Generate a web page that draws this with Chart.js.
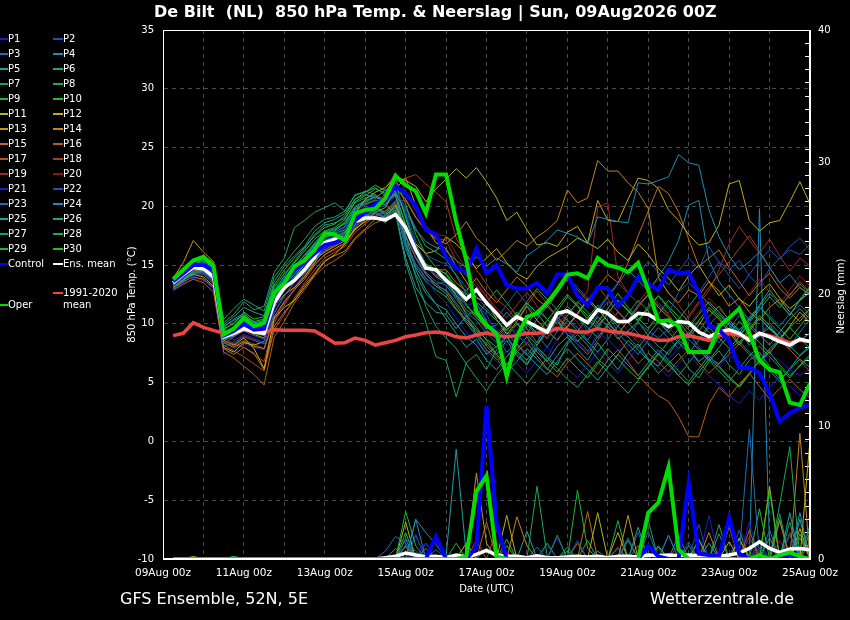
<!DOCTYPE html>
<html>
<head>
<meta charset="utf-8">
<title>De Bilt 850 hPa Temp. &amp; Neerslag</title>
<script src="https://cdn.jsdelivr.net/npm/chart.js@4.4.1/dist/chart.umd.min.js"></script>
<style>
  html, body { margin: 0; padding: 0; background: #000; }
  #wrap { position: relative; width: 850px; height: 620px; overflow: hidden; font-family: 'DejaVu Sans', sans-serif; color: #fff; }
  #myChart { position: absolute; left: 0; top: 0; }
  .title { position: absolute; left: 154px; top: 2px; font-weight: bold; font-size: 16px; line-height: 19px; white-space: nowrap; }
  .foot { position: absolute; top: 589px; font-size: 16px; line-height: 19px; white-space: nowrap; }
  .ytitle2 { position: absolute; left: 801px; top: 290px; width: 80px; height: 12px; line-height: 12px; text-align: center; font-size: 10px; color: #fff; white-space: nowrap; transform: rotate(-90deg); }
  .lg { position: absolute; font-size: 10px; line-height: 12px; white-space: nowrap; }
  .lg i { display: inline-block; width: 10px; height: 2px; vertical-align: middle; }
</style>
</head>
<body>
<div id="wrap">
  <canvas id="myChart" width="850" height="620"></canvas>
  <div class="title">De Bilt&nbsp; (NL)&nbsp; 850 hPa Temp. &amp; Neerslag | Sun, 09Aug2026 00Z</div>
  <div class="ytitle2">Neerslag (mm)</div>
  <div class="foot" style="left:120px">GFS Ensemble, 52N, 5E</div>
  <div class="foot" style="left:650px">Wetterzentrale.de</div>
  <div id="legend"></div>
</div>
<script>
// forecast hours (6-hourly steps from the 09Aug 00z run)
const hours = [6,12,18,24,30,36,42,48, 54,60,66,72,78,84,90,96, 102,108,114,120,126,132,138,144, 150,156,162,168,174,180,186,192,
  198,204,210,216,222,228,234,240, 246,252,258,264,270,276,282,288, 294,300,306,312,318,324,330,336, 342,348,354,360,366,372,378,384];
const dateTicks = ['09Aug 00z','11Aug 00z','13Aug 00z','15Aug 00z','17Aug 00z','19Aug 00z','21Aug 00z','23Aug 00z','25Aug 00z'];

// main lines, 850 hPa temperature (°C)
const ctrlT = [13.6,14.3,15.0,15.0,14.6,9.0,9.4,10.0, 9.5,9.6,12.5,13.6,14.6,15.2,16.0,16.7, 16.9,17.3,18.8,19.5,20.2,20.5,21.7,21.1,
  20.0,18.0,17.6,15.7,14.75,14.4,16.4,14.3, 15.0,13.3,13.0,13.0,13.5,12.6,14.2,14.2, 12.4,11.6,13.1,13.0,11.5,12.4,14.0,13.4,
  12.9,14.6,14.3,14.4,12.6,9.9,9.5,8.6, 6.25,6.25,5.8,4.1,1.7,2.4,2.85,3.1];
const operT = [13.8,14.6,15.4,15.7,14.9,9.1,9.6,10.5, 9.8,10.1,12.6,13.5,14.9,15.4,16.3,17.7, 17.6,17.1,19.4,19.7,19.8,20.7,22.6,21.8,
  21.3,19.4,22.7,22.7,18.7,15.4,11.0,9.9, 9.2,5.5,8.9,10.6,10.9,11.8,12.9,14.2, 14.3,13.9,15.6,15.0,14.8,14.4,15.2,12.9,
  10.2,10.3,9.8,7.6,7.6,7.6,9.8,10.5, 11.3,9.2,6.9,6.1,5.9,3.3,3.1,4.95];
const meanT = [13.5,14.2,14.8,14.7,14.0,8.9,9.2,9.6, 9.3,9.2,11.8,13.1,13.7,14.6,15.7,16.9, 17.2,17.3,18.7,19.0,19.0,18.85,19.3,18.2,
  16.3,14.75,14.6,13.7,13.0,12.1,12.9,11.8, 10.9,9.9,10.6,10.2,9.75,9.3,10.9,11.1, 10.6,10.1,11.2,10.9,10.2,10.2,10.9,10.8,
  10.3,9.75,10.2,10.1,9.3,8.9,9.3,9.5, 9.2,8.6,9.2,8.9,8.5,8.2,8.7,8.5];
const climT = [9.0,9.2,10.1,9.7,9.45,9.2,9.25,9.5, 9.3,9.3,9.5,9.45,9.45,9.45,9.4,8.9, 8.35,8.4,8.8,8.6,8.2,8.4,8.6,8.9,
  9.05,9.25,9.3,9.2,8.9,8.8,9.05,9.25, 9.0,8.9,9.0,9.2,9.2,9.3,9.6,9.5, 9.3,9.3,9.6,9.4,9.3,9.2,9.0,8.8,
  8.6,8.6,8.9,9.0,8.8,8.6,9.0,9.2, 9.0,8.8,9.2,9.0,8.7,8.4,8.6,8.5];

// main lines, precipitation (mm)
const ctrlR = [0,0,0,0,0,0,0,0, 0,0,0,0,0,0,0,0, 0,0,0,0,0,0,0,0, 0,0,1.7,0,0,0,0.9,11.6,
  2.7,0,0,0,0,0,0,0, 0,0,0,0,0,0,0,1.0, 0.2,0,0,5.7,0.4,0.3,0.2,3.1, 0.4,0,0,0,0,0.3,0,0];
const operR = [0,0,0,0,0,0,0,0, 0,0,0,0,0,0,0,0, 0,0,0,0,0,0,0,0, 0,0,0,0,0,0.2,5.1,6.3,
  0.2,0,0,0,0,0,0,0, 0,0,0,0,0,0,0,3.5, 4.25,6.95,0.7,0,0,0,0,0, 0,0,0.3,0,0.3,0.5,0.2,0];
const meanR = [0,0,0,0,0,0,0,0, 0,0,0,0,0,0,0,0, 0,0,0,0,0,0.1,0.2,0.45, 0.3,0.15,0.2,0.1,0.3,0.15,0.35,0.65,
  0.3,0.2,0.2,0.1,0.25,0.1,0.1,0.15, 0.2,0.15,0.2,0.1,0.2,0.2,0.15,0.3, 0.25,0.3,0.25,0.3,0.25,0.3,0.2,0.3, 0.45,0.8,1.3,0.8,0.5,0.75,0.8,0.7];

// perturbed members, temperature
const tP1 = [13.2,13.9,14.6,14.9,14.2,9.4,8.6,9.1, 8.8,8.4,11.2,12.9,13.9,14.8,15.6,16.4, 16.9,17.6,18.9,19.8,20.3,20.9,21.4,19.8, 16.6,14.8,14.2,14.0,12.8,11.5,11.9,10.4, 9.6,8.2,9.1,8.4,7.9,7.1,8.8,9.4, 8.3,7.6,9.2,8.7,7.8,8.1,9.0,8.4, 7.7,7.0,7.9,8.6,8.1,7.2,6.4,7.3, 6.8,5.9,6.7,7.4,6.9,6.1,5.6,6.2];
const tP2 = [13.0,13.5,14.1,14.4,13.6,8.3,8.9,9.4, 9.0,8.7,11.5,13.2,14.4,15.1,16.2,17.0, 17.5,17.9,19.4,19.2,19.6,18.8,19.9,16.5, 15.0,13.8,13.4,13.6,12.2,12.9,11.6,10.8, 9.2,10.1,9.0,8.3,9.6,8.8,10.4,11.2, 10.6,9.4,10.8,11.9,11.1,10.2,11.6,12.4, 11.8,10.9,12.7,13.5,12.6,14.0,15.3,14.6, 15.4,14.1,13.2,14.7,15.6,16.3,15.9,16.8];
const tP3 = [13.4,14.0,14.5,14.3,13.5,8.1,8.4,8.9, 8.6,8.3,10.9,12.4,13.6,14.3,15.4,16.3, 16.8,17.2,18.4,18.9,19.4,19.1,19.8,17.0, 15.1,13.9,13.2,12.9,11.8,10.6,11.4,9.8, 8.9,7.6,8.4,9.9,9.1,8.0,9.4,10.3, 9.7,8.6,9.9,10.8,9.3,8.9,10.1,9.4, 8.8,9.6,10.4,9.5,8.7,9.9,10.8,10.1, 9.2,10.6,11.4,10.7,9.8,10.9,11.6,10.8];
const tP4 = [13.6,14.3,15.1,15.3,14.6,9.7,10.4,10.9, 10.1,10.3,12.9,14.0,14.7,15.6,16.8,17.6, 17.8,18.3,19.7,20.3,20.8,20.4,21.1,19.6, 18.0,17.0,16.5,16.2,15.4,14.8,15.7,14.9, 15.6,15.1,14.4,15.8,16.4,17.1,18.0,17.7, 17.4,16.8,19.1,18.9,18.7,18.6,22.0,21.9, 22.2,22.5,24.4,23.7,23.5,19.7,17.4,15.8, 14.6,15.3,16.1,14.8,13.5,14.2,13.1,12.4];
const tP5 = [13.1,13.8,14.4,14.6,13.9,8.7,9.0,9.8, 9.4,9.3,12.1,13.4,14.2,15.3,16.4,17.4, 17.6,17.3,18.6,19.3,19.1,18.6,19.6,15.6, 13.1,11.8,11.0,10.8,9.6,10.7,9.1,8.3, 7.4,8.6,7.3,6.5,7.9,6.8,8.1,8.9, 7.8,6.9,8.4,7.2,6.1,7.5,8.3,7.0, 6.4,7.7,8.6,7.9,6.8,7.5,8.9,10.1, 9.4,8.2,9.0,9.7,8.8,7.9,8.6,9.2];
const tP6 = [13.3,14.1,15.0,15.5,14.8,9.9,10.6,11.4, 11.0,10.7,13.6,14.9,15.8,16.6,17.9,18.6, 18.9,19.4,20.6,21.0,20.7,21.4,20.9,17.5, 14.6,12.9,11.7,10.4,9.2,8.0,8.7,7.4, 8.1,9.0,7.7,6.9,8.2,9.6,10.4,9.1, 8.5,9.3,10.6,9.8,8.7,9.4,10.2,9.0, 8.1,7.4,8.6,9.3,8.0,7.1,6.6,7.8, 8.5,7.6,6.8,7.9,8.7,8.1,7.3,8.0];
const tP7 = [13.7,14.5,15.4,15.8,15.0,10.1,10.8,11.9, 11.2,11.5,14.4,15.6,18.2,18.8,19.5,19.9, 20.3,19.6,20.9,21.3,21.0,20.1,19.4,15.2, 12.6,10.1,7.2,6.9,3.8,6.7,7.4,6.1, 7.8,8.9,7.5,6.6,8.0,7.2,6.5,8.3, 9.1,8.2,7.0,6.3,7.4,8.6,7.8,6.9, 5.8,6.6,7.5,6.2,5.4,6.8,7.7,6.5, 5.7,6.9,7.6,6.4,5.3,6.1,7.0,6.3];
const tP8 = [13.5,14.0,14.9,15.2,14.4,9.2,9.5,10.2, 9.8,9.6,12.2,13.7,14.8,15.9,16.7,17.5, 17.9,18.6,19.8,20.2,20.5,20.1,21.2,19.9, 18.1,16.6,16.1,15.5,14.1,12.6,11.8,10.2, 8.9,9.7,10.8,9.9,11.2,10.4,9.3,10.7, 11.9,11.0,10.1,11.3,12.6,11.4,10.5,9.6, 10.8,12.0,11.1,10.2,9.4,10.6,11.5,10.3, 9.5,10.4,11.6,12.9,11.8,10.7,12.1,13.2];
const tP9 = [13.2,13.7,14.3,14.5,13.7,8.8,9.1,9.7, 9.3,9.5,11.9,13.0,13.9,15.1,16.2,17.1, 17.4,17.8,19.0,19.4,19.8,19.3,19.9,18.0, 16.0,15.1,14.6,14.3,13.2,12.5,11.9,11.1, 10.3,9.4,10.6,11.8,10.9,9.8,11.1,12.3, 11.5,10.4,9.6,10.9,12.0,11.2,10.3,11.5, 12.4,11.3,10.2,9.1,10.3,11.4,10.6,9.5, 8.4,9.6,10.7,9.9,8.8,9.7,10.5,11.3];
const tP10 = [13.8,14.6,15.3,15.4,14.7,9.5,10.1,10.8, 10.2,10.4,13.1,14.3,15.2,16.2,17.2,17.9, 18.2,18.9,20.4,20.9,21.5,21.1,22.0,19.0, 16.4,15.0,14.2,13.9,12.4,10.8,9.7,8.6, 7.4,6.5,7.8,8.9,7.6,6.8,5.9,7.1, 6.2,5.4,6.6,7.9,7.0,6.1,5.3,6.4, 7.5,6.7,5.6,4.8,5.9,7.0,6.3,5.4, 4.6,5.7,6.8,7.6,6.5,5.6,6.4,7.2];
const tP11 = [13.3,13.9,14.2,14.0,13.2,8.0,7.6,8.4, 8.2,8.5,11.4,12.5,13.1,14.0,15.2,16.6, 16.9,17.6,19.4,20.6,21.2,21.6,22.5,22.2, 21.7,20.4,21.5,22.3,23.2,22.4,23.3,22.1, 20.7,18.8,19.5,18.0,16.7,16.9,16.6,17.8, 18.3,16.9,16.4,17.2,16.1,15.4,16.8,15.9, 14.7,13.9,12.8,14.1,15.0,13.6,12.4,13.3, 12.1,11.5,12.6,13.4,12.2,11.3,12.0,12.7];
const tP12 = [13.6,14.3,15.1,15.0,14.1,8.6,8.2,8.8, 7.9,6.2,10.5,11.4,12.0,13.1,14.2,15.3, 15.9,16.8,18.1,18.7,19.4,19.0,20.1,18.0, 16.8,16.0,16.2,17.4,16.8,15.9,14.7,15.6, 16.4,15.2,14.3,13.8,14.9,15.6,16.1,16.6, 17.3,16.9,20.5,18.8,18.7,20.6,22.4,22.2, 21.5,19.7,18.8,17.6,16.7,16.9,18.4,21.9, 22.2,18.8,17.9,18.6,18.8,20.4,22.1,20.2];
const tP13 = [13.9,15.2,17.1,16.1,15.3,9.3,8.9,9.6, 9.1,8.8,11.6,12.8,13.9,14.6,15.5,16.1, 16.6,17.1,18.0,18.9,19.5,19.9,21.5,22.4, 20.1,18.2,16.9,16.4,14.9,13.6,12.2,11.9, 10.4,9.1,10.2,11.5,10.3,9.4,8.6,9.8, 10.9,12.1,11.3,10.2,9.1,10.3,11.6,12.5, 11.4,10.6,9.7,8.8,9.9,11.2,10.4,9.3, 8.2,9.4,10.5,9.6,8.7,9.8,11.0,10.1];
const tP14 = [13.4,14.0,14.7,14.5,13.8,8.4,8.0,8.5, 8.1,7.9,10.6,11.9,12.9,13.8,15.0,15.9, 16.4,16.9,18.2,19.1,19.8,20.4,21.6,20.6, 19.1,18.0,17.2,16.8,17.6,18.7,17.3,16.5, 15.4,16.2,17.1,16.6,17.4,18.0,18.8,21.4, 20.3,20.7,23.9,23.0,23.0,22.0,21.2,19.8, 14.0,12.6,11.8,12.9,12.4,13.6,12.8,11.5, 12.2,11.0,10.3,11.4,12.1,11.0,10.2,11.3];
const tP15 = [13.0,13.6,14.0,13.8,13.1,7.9,7.4,8.0, 7.5,6.1,9.8,11.0,12.0,13.3,14.3,15.4, 15.8,16.2,17.3,18.1,18.9,19.2,20.1,17.9, 16.2,15.1,14.6,14.6,13.5,12.8,13.9,12.7, 11.8,12.9,14.0,13.2,12.1,11.4,12.6,13.8, 12.9,12.0,13.1,14.2,13.5,15.2,17.5,19.6, 21.7,21.1,19.5,17.2,14.9,15.6,16.3,14.8, 13.6,12.4,13.5,14.3,13.0,12.2,13.1,12.5];
const tP16 = [12.9,13.4,13.8,13.5,12.7,7.6,7.1,6.4, 5.7,4.8,8.9,10.2,11.8,12.9,14.1,14.9, 15.4,16.0,17.2,18.0,18.6,18.9,19.8,17.4, 15.6,14.2,13.4,12.8,11.6,10.2,9.4,8.1, 7.2,6.3,7.6,8.4,7.3,6.2,5.5,6.7, 7.5,6.6,5.7,6.9,7.8,6.8,5.6,4.7, 3.9,3.4,2.1,0.4,0.4,3.2,4.6,3.8, 4.9,5.8,4.7,3.6,4.5,5.3,4.4,3.7];
const tP17 = [13.1,13.7,14.5,14.6,13.9,8.2,7.7,7.2, 6.6,6.0,9.5,10.8,12.2,13.5,14.6,15.6, 16.1,16.6,17.8,18.5,19.2,19.6,20.3,18.1, 16.2,14.9,14.1,13.7,12.5,11.2,10.6,9.5, 8.7,9.5,10.8,9.6,8.4,9.3,10.2,9.1, 8.3,7.4,8.6,9.8,8.9,7.7,6.6,7.5, 6.8,5.9,6.9,7.8,6.7,5.8,6.6,7.4, 8.3,7.4,6.5,7.7,8.6,7.8,6.9,5.9];
const tP18 = [13.5,14.1,14.8,15.0,14.1,8.8,8.3,8.0, 7.4,6.8,10.1,11.6,13.0,14.2,15.3,16.2, 16.7,17.3,18.6,19.5,20.1,21.1,22.0,22.4, 22.7,21.9,21.2,20.4,17.3,15.8,14.6,13.4, 12.1,11.4,10.3,11.6,12.8,11.7,10.6,9.7, 10.9,12.0,13.2,12.1,11.0,10.2,11.4,12.5, 11.6,10.8,9.6,10.7,11.9,13.1,14.2,15.3, 16.4,17.5,16.2,14.8,13.5,12.4,13.6,12.7];
const tP19 = [13.2,13.8,14.3,14.2,13.4,8.5,8.1,8.6, 8.3,7.9,10.3,11.8,12.9,14.0,15.1,15.9, 16.3,16.8,18.0,18.7,19.1,19.6,20.5,20.5, 19.0,17.9,17.3,17.1,15.4,14.1,13.2,12.4, 11.3,10.5,11.6,12.7,11.5,10.4,9.6,10.8, 11.7,12.8,19.9,20.3,14.0,12.6,11.8,12.9, 13.8,12.7,11.6,10.5,11.7,12.8,14.6,16.8, 18.3,17.1,16.0,17.2,15.8,14.5,15.6,14.9];
const tP20 = [13.4,14.0,14.6,14.8,14.0,8.9,8.6,9.0, 8.7,8.4,11.0,12.3,13.5,14.7,15.8,16.7, 17.1,17.9,19.2,20.0,20.6,21.5,22.9,21.2, 19.6,18.3,17.6,17.5,16.0,14.7,13.5,12.3, 11.0,10.2,9.3,10.5,9.6,8.7,9.9,11.0, 10.1,9.0,10.2,11.4,10.5,9.4,8.4,9.5, 10.6,9.7,8.8,9.9,11.0,12.2,11.3,10.4, 11.5,12.6,13.8,12.7,11.6,12.9,14.1,13.2];
const tP21 = [12.8,13.3,13.9,13.7,13.0,7.4,7.9,8.3, 8.0,7.8,10.4,12.0,13.2,14.3,15.5,16.5, 16.8,17.4,18.7,19.1,19.5,19.2,20.2,18.0, 15.6,13.8,12.6,11.8,10.5,9.3,8.4,7.6, 6.8,7.7,6.6,5.8,6.9,8.0,7.1,6.2, 5.4,6.5,7.6,6.7,5.8,6.9,8.0,7.1, 6.3,5.5,6.6,7.5,6.4,5.6,4.8,3.9, 3.2,4.3,3.5,4.6,5.5,4.7,3.9,4.8];
const tP22 = [13.0,13.6,14.2,14.4,13.7,8.6,9.2,9.8, 9.4,9.1,11.8,13.3,14.5,15.4,16.5,17.3, 17.6,18.2,19.6,20.1,20.6,20.0,20.9,19.4, 17.1,15.9,15.4,15.1,14.2,13.1,12.4,11.3, 10.5,11.6,12.8,11.7,10.6,11.8,12.9,14.0, 13.1,12.2,11.3,12.4,13.5,12.6,14.2,15.3, 14.4,13.3,14.5,15.6,14.7,16.6,15.2,14.1, 13.0,14.2,15.4,16.3,15.5,16.6,17.3,16.3];
const tP23 = [13.3,13.9,14.6,14.7,14.0,8.9,9.3,9.9, 9.5,9.4,12.0,13.1,14.0,15.2,16.3,17.2, 17.3,17.7,19.1,19.6,20.0,19.5,20.4,17.5, 15.7,14.4,13.6,13.3,12.1,11.0,10.3,9.2, 8.4,9.3,8.2,7.3,8.5,9.7,10.6,9.5, 8.6,7.7,8.9,10.0,9.2,8.3,7.4,8.6, 9.7,8.8,7.9,9.0,10.2,9.3,8.4,9.6, 10.7,9.8,8.9,10.1,9.2,8.1,9.3,10.4];
const tP24 = [13.7,14.4,15.2,15.6,14.9,9.8,10.3,10.7, 10.0,9.9,12.6,13.9,14.9,15.8,16.9,17.8, 18.1,18.5,19.9,20.4,20.9,20.6,21.3,19.2, 16.8,15.1,14.4,14.0,12.7,11.5,10.8,9.6, 9.9,11.0,10.1,9.2,10.4,11.5,10.6,9.7, 10.8,12.0,11.1,12.3,13.4,14.6,13.7,12.8, 14.0,15.3,17.1,20.1,20.5,15.4,13.6,12.5, 11.4,10.3,11.5,12.6,11.7,10.8,12.0,13.1];
const tP25 = [13.5,14.2,14.9,15.1,14.4,9.3,9.7,10.3, 9.9,9.7,12.3,13.6,14.6,15.6,16.6,17.4, 17.7,18.0,19.3,19.7,19.9,19.4,20.2,16.4, 14.2,12.6,11.7,11.2,10.0,8.9,8.2,6.9, 6.1,7.2,8.3,7.4,6.5,5.7,6.8,7.9, 7.0,6.1,5.2,6.3,7.4,6.5,5.6,6.7, 7.8,6.9,6.0,5.1,6.2,7.3,6.4,5.5, 4.7,5.8,6.9,6.0,5.1,6.2,7.3,8.2];
const tP26 = [13.1,13.7,14.4,14.6,13.8,8.7,9.4,10.6, 10.2,9.8,12.7,14.1,15.3,16.4,17.6,18.4, 18.6,19.0,20.3,20.7,21.0,20.3,21.0,18.3, 16.1,14.3,13.2,12.6,11.3,10.1,9.0,7.8, 7.0,5.9,6.8,7.9,7.0,6.1,7.3,8.5, 9.4,8.5,7.6,8.7,9.8,8.9,8.0,9.1, 10.2,9.3,8.4,7.5,8.6,9.7,8.8,7.9, 8.9,10.0,9.1,8.2,9.3,10.4,11.3,10.4];
const tP27 = [13.6,14.4,15.3,15.7,15.1,10.4,11.3,12.1, 11.6,11.1,14.0,15.1,16.2,17.2,18.3,18.9, 19.1,19.6,21.0,21.2,21.6,20.9,21.3,16.9, 14.0,11.5,9.8,8.8,7.9,6.6,5.4,4.3, 5.6,6.7,5.8,4.9,6.0,7.1,6.2,5.3, 4.6,5.7,6.8,5.9,5.0,4.1,5.2,6.3, 7.4,6.5,5.6,6.7,7.8,6.9,6.0,5.1, 6.2,7.3,8.1,7.2,6.3,5.4,6.5,7.4];
const tP28 = [13.4,14.1,14.8,15.0,14.3,9.1,9.6,10.0, 9.6,9.3,12.0,13.4,14.5,15.6,16.8,17.7, 18.0,18.7,20.0,20.5,20.8,20.3,21.0,18.5, 16.3,14.9,14.0,13.5,12.4,11.6,10.7,11.8, 12.9,11.8,10.7,11.9,13.0,12.1,11.2,10.3, 9.4,10.5,11.6,10.7,9.8,10.9,12.0,11.1, 10.2,9.3,10.4,11.5,12.6,11.7,10.8,9.9, 9.0,10.1,11.2,12.3,11.4,12.5,13.4,12.6];
const tP29 = [13.2,13.8,14.5,14.7,14.0,8.6,8.9,9.5, 9.2,9.0,11.6,12.9,14.0,15.0,16.1,17.0, 17.2,17.6,18.8,19.2,19.6,19.0,19.7,16.8, 14.8,13.6,12.9,12.3,11.2,10.4,9.5,8.7, 8.0,8.9,10.0,9.1,8.2,9.3,10.4,11.5, 10.6,9.7,8.8,9.9,11.0,10.1,9.2,8.3, 7.4,8.5,9.6,8.7,7.8,6.9,8.0,9.1, 10.2,9.3,8.4,7.5,8.6,9.7,8.8,7.9];
const tP30 = [13.9,14.7,15.5,15.8,15.2,9.6,10.0,11.0, 10.4,10.6,13.3,14.6,15.6,16.5,17.5,18.2, 18.5,19.2,20.6,21.2,21.8,21.3,22.3,20.2, 17.6,15.9,14.8,14.2,12.9,11.7,10.5,9.8, 9.0,9.9,11.0,10.1,9.2,10.3,11.4,12.5, 11.6,10.7,9.8,10.9,12.0,11.1,10.2,11.3, 12.4,11.5,10.6,9.7,10.8,11.9,11.0,10.1, 9.2,10.3,11.4,10.5,9.6,8.7,9.8,10.9];

// perturbed members, precipitation
const rP1 = [0,0,0,0,0,0,0,0, 0,0,0,0,0,0,0,0, 0,0,0,0,0,0,0,0, 0.5,1.2,0,0,0,0,0,0, 0,0,0,0,0,1.0,0,0, 0,0,0,0,0,0,0,0, 0,0,0,0,0,0,0,0, 2.2,1.1,0,0,0.6,0,0,0];
const rP2 = [0,0,0,0,0,0,0,0, 0,0,0,0,0,0,0,0, 0,0,0,0,0,0,0,1.6, 0.6,0,0,0,0,0,0,0, 0,0,0,0,0,0,0,0, 1.4,0,0,0,0,0,0,0, 0,0,0,1.3,0,0,0,0, 0,0,0.8,0,0,1.8,0,0];
const rP3 = [0,0,0,0,0,0,0,0, 0,0,0,0,0,0,0,0, 0,0,0,0,0,0.6,1.7,1.2, 0,0,0,0,0,0,0,0, 0,0,0,0,0,0,0,0, 0,0,0,0,0,1.6,0,2.1, 0,0,0,0,0,0,0,2.6, 0.3,9.8,0.3,0,0,0,0,0];
const rP4 = [0,0,0,0,0,0,0,0, 0,0,0,0,0,0,0,0, 0,0,0,0,0,0,0,0, 3.0,2.0,1.1,0,0,0,0,0, 0,0,0,0,0,0,0,0, 0,0,0,0,0.8,0,0,0, 0,0,1.8,0,0,0,0,0, 0,0,0,0,0,0,3.5,0];
const rP5 = [0,0,0,0,0,0,0,0, 0,0,0,0,0,0,0,0, 0,0,0,0,0,0,0,0, 0,0,0,0.2,8.3,0.3,0,0, 0,0,0,0,0,0,0,0, 0,0,0.6,0,0,0,0,0, 0,0,0,0,0,1.2,0,0, 0,0,0,0,0,3.5,0,0];
const rP6 = [0,0,0,0,0,0,0,0, 0,0,0,0,0,0,0,0, 0,0,0,0,0,0,0,1.0, 0,0,0,0,0,0,0,0.8, 0,0,0,0,0,0,0,0, 0,0,0,0,0,0,2.4,0, 0,0,0,0,0,0,0,0, 0,0,0,1.6,0,0,0,2.6];
const rP7 = [0,0,0,0,0,0,0.2,0, 0,0,0,0,0,0,0,0, 0,0,0,0,0,0,0,0, 0,0,0,0,0,0,0,0, 0,0,0,0,0,0,1.8,0, 0,0,0,0,0,1.4,0,0, 0,0,0,0,0,0,1.9,0, 0,0,0,0,0,2.8,0,0];
const rP8 = [0,0,0,0,0,0,0,0, 0,0,0,0,0,0,0,0, 0,0,0,0,0,0,0,0, 0,0,0,0,0,0,0,0, 0,0,0,0,5.5,0.2,0,0, 0,0,0,0,0,0,0,0, 1.0,0,0,0,0,0,0,0, 0,0,0,0,4.1,8.5,0,0];
const rP9 = [0,0,0,0,0,0,0,0, 0,0,0,0,0,0,0,0, 0,0,0,0,0,0,0,3.6, 1.0,0,0,0,0,0,0,0, 0,0,0,0,0,0,0,0, 5.2,0.8,0,0,0,0,0,0, 0,0,0,0,0,0,0,0, 0,0,3.8,0,0,0,0,0];
const rP10 = [0,0,0,0,0,0,0,0, 0,0,0,0,0,0,0,0, 0,0,0,0,0,0,0,0, 0,0,0,0,0,0,0,0, 0,1.0,0,0,0,0,0,0.6, 0,0,0,0,0,0,0,0, 0,0,0,0,1.5,0,0,0, 0,0,0,5.2,0,0,0,0];
const rP11 = [0,0,0,0,0,0,0,0, 0,0,0,0,0,0,0,0, 0,0,0,0,0,0,0,2.8, 0,0,0,0,0,0,0,0, 0,3.3,0,0,0,0,0,0, 0,0,3.5,0,0,0,0,0, 0,0,0,0,0,0,0,0, 0,0,0,5.5,0,0,0,9.0];
const rP12 = [0,0,0,0,0,0,0,0, 0,0,0,0,0,0,0,0, 0,0,0,0,0,0,0,0, 0,0,0,0,0,1.2,0,0, 0,0,0,0,0,0,0,0, 0,0,0,0,2.0,0,0,0, 0,0,0,0,0,0,0,1.3, 0,0,0,0,0,0,2.3,0];
const rP13 = [0,0,0.2,0,0,0,0,0, 0,0,0,0,0,0,0,0, 0,0,0,0,0,0,0,0, 0,0,0,0,0,0,6.5,1.2, 0,0,0,0,0,0,0,0, 0,0,0,0,0,3.3,0,0, 0,0,0,0,0,0,0,0, 1.6,0,0,0,0,0,0,0];
const rP14 = [0,0,0,0,0,0,0,0, 0,0,0,0,0,0,0,0, 0,0,0,0,0,0,0,0, 0,0,0,0,0,0,0,0, 0,0,3.2,1.0,0,0,0,0, 0,0,0,0,0,0,0,0, 0,0,0,0,0,2.0,0,0, 0,0,0,0,0,0,9.5,0];
const rP15 = [0,0,0,0,0,0,0,0, 0,0,0,0,0,0,0,0, 0,0,0,0,0,0,0,0, 0,0.8,0,0,0,0,0,0, 0,0,0,0,0,0,0,0, 0,3.6,0,0,0,0,0,0, 0,0,0,0,1.4,0,0,0, 0,0,0,0,2.9,0,0,0];
const rP16 = [0,0,0,0,0,0,0,0, 0,0,0,0,0,0,0,0, 0,0,0,0,0,0,0,0, 0,0,0,0,0,0,0,2.8, 0,0,0,0,0,0,0,0, 1.2,0,0,0,0,0,0,0, 0,0,0,0,0,0,0,0, 0,2.2,0,0,0,0,1.6,0];
const rP17 = [0,0,0,0,0,0,0,0, 0,0,0,0,0,0,0,0, 0,0,0,0,0,0,0,0, 0,0,0,0,0,0,1.4,0, 0,0,0,0,0,0,0,0, 0,0,0,0,0,0,1.0,0, 0,0,0,0,0,0,0,2.4, 0,0,0,0,0,0,0,1.2];
const rP18 = [0,0,0,0,0,0,0,0, 0,0,0,0,0,0,0,0, 0,0,0,0,0,0,0,0, 0,0,0,0,0,0,0,0, 2.2,0,0,0,0,0,0,0, 0,0,0,0,0,0,0,0, 0,0,1.1,0,0,0,0,0, 0,0,0,0,0,2.0,0,0];
const rP19 = [0,0,0,0,0,0,0,0, 0,0,0,0,0,0,0,0, 0,0,0,0,0,0,0,0, 0,0,0,0,0,0,0,0, 0,0,0,0,0,0,0,0, 0,0,0,0,0.9,0,0,0, 0,0,0,0,0,0,0,0, 0,1.7,0,0,0,0,0,0];
const rP20 = [0,0,0,0,0,0,0,0, 0,0,0,0,0,0,0,0, 0,0,0,0,0,0,0,0.9, 0,0,0,0,0,0,0,0, 0,0,0,0,0,0,0,0, 0,0,0,0,0,0,0,0, 0.7,0,0,0,0,0,0,0, 0,0,0,0,1.4,0,0,0];
const rP21 = [0,0,0,0,0,0,0,0, 0,0,0,0,0,0,0,0, 0,0,0,0,0,0,0,0, 1.9,0,0,0,0,0,0,0, 0,0,0,0,0,0,1.6,0, 0,0,0,0,0,0,0,0, 0,0,0,0,0,3.3,0,0, 0,2.8,0,0,0,0,0,0];
const rP22 = [0,0,0,0,0,0,0,0, 0,0,0,0,0,0,0,0, 0,0,0,0,0,0,0,0, 0,1.2,0,0,0,0,0,0, 0,0,0,0,0,0,0,0, 0,0,0,0,0,0,2.0,0, 0,0,0,0,2.6,0,0,0, 0,0,1.2,0,0,0,0,0];
const rP23 = [0,0,0,0,0,0,0,0, 0,0,0,0,0,0,0,0, 0,0,0,0,0,0,0,0, 0,0,0.7,0,0,0,0,0, 0,0,0,0,0.9,0,0,0, 0,0,0,0,0,0,0,0, 0,1.8,0,0,0,0,0,0, 0,0,0,2.2,0,0,0,0];
const rP24 = [0,0,0,0,0,0,0,0, 0,0,0,0,0,0,0,0, 0,0,0,0,0,0,0,0, 3.0,0,0,0,0,0,0,0, 0,0,0,0,0,0,0,0, 0,0,0,0,0,0,0,0, 0,1.8,0,0,0,0,0,0, 0,0.3,26.5,1.0,0,0,0,0];
const rP25 = [0,0,0,0,0,0,0,0, 0,0,0,0,0,0,0,0, 0,0,0,0,0,0,0,1.5, 0,0,0,0,0,0,0,0, 0,0,0,2.1,0,0,0,0, 0,0,0,0,0,0,0,0, 0,0,0,1.0,0,0,0,0, 0,0,0,0,0,0,3.0,0];
const rP26 = [0,0,0,0,0,0,0,0, 0,0,0,0,0,0,0,0, 0,0,0,0,0,0,0.8,0, 1.8,0,0,0,0,0,0,0, 0,0,0,0,0,0,0,0.9, 0,0,0,0,0,0,0,0, 0,0,0,0,0,0,0,0, 1.5,0,0,0,0,0,0,2.0];
const rP27 = [0,0,0,0,0,0,0.2,0, 0,0,0,0,0,0,0,0, 0,0,0,0,0,0,0,0, 0,0,0,0,0,0,0,0, 0,1.5,0,0,0,0,0,0, 0,0,0,0,0,0,0,2.9, 0,0,0,0,0,0,0,0, 0,0,0,0,3.0,0,0,0];
const rP28 = [0,0,0,0,0,0,0,0, 0,0,0,0,0,0,0,0, 0,0,0,0,0,0,0,1.0, 0,0,0,0,0,0,0,0, 0,0,0,0,0,0,0,0, 0,1.4,0,0,0,0,0,0, 0,0,0,0,0,0,2.6,0, 0,0,0,0,3.4,0,0,0];
const rP29 = [0,0,0,0,0,0,0,0, 0,0,0,0,0,0,0,0, 0,0,0,0,0,0,0,0, 0,0,0,0,1.2,0,0,0, 0,0,0,0,0,0,0,0, 0,0,0,0,2.9,0,0,0, 0,0,0,0,0,0,0,0, 2.2,0,0,0,0,0,0,0];
const rP30 = [0,0,0,0,0,0,0,0, 0,0,0,0,0,0,0,0, 0,0,0,0,0,0,0,2.0, 0,0,0,0,0,0,0,0, 0,0,0,0,0,1.2,0,0, 0,0,0,0,0,0,0,0, 0.9,0,0,0,0,0,0,0, 0,0,0,0,0,0,1.9,0];

const memberTemp = [tP1,tP2,tP3,tP4,tP5,tP6,tP7,tP8,tP9,tP10,tP11,tP12,tP13,tP14,tP15,tP16,tP17,tP18,tP19,tP20,
  tP21,tP22,tP23,tP24,tP25,tP26,tP27,tP28,tP29,tP30];
const memberRain = [rP1,rP2,rP3,rP4,rP5,rP6,rP7,rP8,rP9,rP10,rP11,rP12,rP13,rP14,rP15,rP16,rP17,rP18,rP19,rP20,
  rP21,rP22,rP23,rP24,rP25,rP26,rP27,rP28,rP29,rP30];
// P1..P20 colour ramp, P21..P30 reuse the first ten
const memberColors = ['#1c1cc8','#1e50b4','#1e6eb4','#1e8cb4','#1ea0a0','#1ea082','#1ea064','#1ea850','#1eb43c','#1ec01e',
  '#b4b41e','#c0aa1e','#c0961e','#c0821e','#c06e1e','#b4601e','#b4501e','#aa3c1e','#a02828','#8c1818'];

const toXY = vals => vals.map((v, i) => ({ x: hours[i], y: v }));
const line = (vals, color, width, axis, order) => ({
  data: toXY(vals), borderColor: color, borderWidth: width, yAxisID: axis, order: order,
  pointRadius: 0, tension: 0, fill: false
});

// build the datasets
const datasets = [];
memberTemp.forEach((m, k) => datasets.push(line(m, memberColors[k % 20], 1, 'y', 10)));
memberRain.forEach((m, k) => datasets.push(line(m, memberColors[k % 20], 1, 'y1', 10)));
datasets.push(line(climT, '#f04444', 3.5, 'y', 4));
datasets.push(line(meanT, '#ffffff', 3.5, 'y', 3));
datasets.push(line(meanR, '#ffffff', 3.5, 'y1', 3));
datasets.push(line(ctrlT, '#0000ff', 4, 'y', 2));
datasets.push(line(ctrlR, '#0000ff', 4, 'y1', 2));
datasets.push(line(operT, '#00dd00', 4, 'y', 1));
datasets.push(line(operR, '#00dd00', 4, 'y1', 1));

// white frame on top of the plot
const frame = {
  id: 'frame',
  afterDraw(chart) {
    const a = chart.chartArea, c = chart.ctx;
    c.save();
    c.strokeStyle = '#ffffff';
    c.lineWidth = 1;
    c.strokeRect(a.left + 0.5, a.top + 0.5, a.right - a.left - 1, a.bottom - a.top - 1);
    c.restore();
  }
};

const tickFont = { family: 'DejaVu Sans', size: 10 };
const gridColor = '#4a4a4a';

let ctx = document.getElementById('myChart').getContext('2d');
let chart = new Chart(ctx, {
  type: 'line',
  data: { datasets },
  plugins: [frame],
  options: {
    responsive: false,
    animation: false,
    events: [],
    layout: { padding: { top: 30, left: 0, right: 0, bottom: 0 } },
    plugins: { legend: { display: false }, tooltip: { enabled: false } },
    scales: {
      x: {
        type: 'linear', min: 0, max: 384,
        afterFit: s => { s.height = 61; },
        ticks: { stepSize: 24, autoSkip: false, maxRotation: 0, color: '#ffffff', font: { family: 'DejaVu Sans', size: 10.5 }, padding: 8,
          callback: v => (v % 48 === 0 ? dateTicks[v / 48] : '') },
        grid: { color: gridColor, drawTicks: false },
        border: { color: '#ffffff', dash: [4, 4] },
        title: { display: true, text: 'Date (UTC)', color: '#ffffff', font: tickFont, padding: { top: 0, bottom: 25 } }
      },
      y: {
        position: 'left', min: -10, max: 35,
        afterFit: s => { s.width = 163; },
        ticks: { stepSize: 5, color: '#ffffff', font: tickFont, padding: 9 },
        grid: { color: gridColor, drawTicks: false },
        border: { color: '#ffffff', dash: [4, 4] },
        title: { display: true, text: '850 hPa Temp. (°C)', color: '#ffffff', font: tickFont, padding: { top: 126, bottom: 0 } }
      },
      y1: {
        position: 'right', min: 0, max: 40,
        afterFit: s => { s.width = 40; },
        ticks: { stepSize: 1, autoSkip: false, color: '#ffffff', font: tickFont, padding: 13,
          callback: v => (v % 10 === 0 ? v : '') },
        grid: { drawOnChartArea: false, drawTicks: true, tickLength: -5, tickColor: '#ffffff' },
        border: { color: '#ffffff' }
      }
    }
  }
});

// legend on the left, two columns
const legend = document.getElementById('legend');
function addItem(text, color, col, y) {
  const d = document.createElement('div');
  d.className = 'lg';
  d.style.left = (col === 0 ? -2 : 53) + 'px';
  d.style.top = (y - 6) + 'px';
  d.innerHTML = '<i style="background:' + color + '"></i>' + text;
  legend.appendChild(d);
}
memberTemp.forEach((m, k) => addItem('P' + (k + 1), memberColors[k % 20], k % 2, 39 + 15 * Math.floor(k / 2)));
addItem('Control', '#0000ff', 0, 264);
addItem('Ens. mean', '#ffffff', 1, 264);
addItem('1991-2020<br><span style="padding-left:10px">mean</span>', '#f04444', 1, 293);
addItem('Oper', '#00dd00', 0, 305);
</script>
</body>
</html>
